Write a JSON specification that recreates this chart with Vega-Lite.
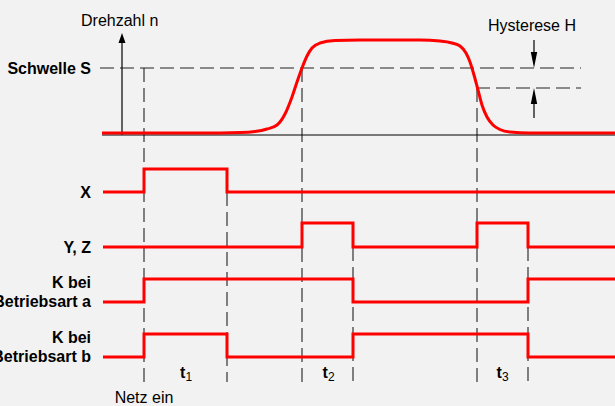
{
  "$schema": "https://vega.github.io/schema/vega-lite/v6.json",
  "width": 615,
  "height": 406,
  "autosize": {"type": "none"},
  "padding": 0,
  "background": "#f2f2f2",
  "config": {"view": {"stroke": null}},
  "datasets": {
    "signals": [
      {"s": "X", "t": 103, "v": 192}, {"s": "X", "t": 144, "v": 169}, {"s": "X", "t": 227, "v": 192}, {"s": "X", "t": 615, "v": 192},
      {"s": "YZ", "t": 103, "v": 247}, {"s": "YZ", "t": 302, "v": 223}, {"s": "YZ", "t": 353, "v": 247}, {"s": "YZ", "t": 477, "v": 223}, {"s": "YZ", "t": 528, "v": 247}, {"s": "YZ", "t": 615, "v": 247},
      {"s": "Ka", "t": 103, "v": 302}, {"s": "Ka", "t": 144, "v": 279}, {"s": "Ka", "t": 353, "v": 302}, {"s": "Ka", "t": 528, "v": 279}, {"s": "Ka", "t": 615, "v": 279},
      {"s": "Kb", "t": 103, "v": 357}, {"s": "Kb", "t": 144, "v": 334}, {"s": "Kb", "t": 227, "v": 357}, {"s": "Kb", "t": 353, "v": 334}, {"s": "Kb", "t": 528, "v": 357}, {"s": "Kb", "t": 615, "v": 357}
    ],
    "speed": [
      {"t": 102, "v": 133}, {"t": 200, "v": 133}, {"t": 240, "v": 132.5}, {"t": 255, "v": 131.5}, {"t": 267, "v": 129}, {"t": 277, "v": 125},
      {"t": 285, "v": 114}, {"t": 292, "v": 97}, {"t": 297, "v": 82}, {"t": 302, "v": 68}, {"t": 307, "v": 56}, {"t": 312, "v": 48},
      {"t": 320, "v": 43}, {"t": 335, "v": 40.5}, {"t": 360, "v": 40}, {"t": 420, "v": 40}, {"t": 440, "v": 41}, {"t": 452, "v": 43},
      {"t": 460, "v": 46}, {"t": 466, "v": 53}, {"t": 470, "v": 62}, {"t": 474, "v": 75}, {"t": 478, "v": 90}, {"t": 482, "v": 105},
      {"t": 487, "v": 117}, {"t": 493, "v": 125}, {"t": 500, "v": 129.5}, {"t": 510, "v": 132}, {"t": 530, "v": 133}, {"t": 615, "v": 133}
    ],
    "solid": [
      {"t": 102, "t2": 615, "v": 135, "v2": 135},
      {"t": 122, "t2": 122, "v": 135, "v2": 42},
      {"t": 534, "t2": 534, "v": 40, "v2": 60},
      {"t": 534, "t2": 534, "v": 118, "v2": 96}
    ],
    "dashed": [
      {"t": 100, "t2": 581, "v": 68, "v2": 68},
      {"t": 476, "t2": 581, "v": 88, "v2": 88},
      {"t": 144, "t2": 144, "v": 68, "v2": 382},
      {"t": 227, "t2": 227, "v": 192, "v2": 382},
      {"t": 302, "t2": 302, "v": 68, "v2": 382},
      {"t": 353, "t2": 353, "v": 247, "v2": 382},
      {"t": 477, "t2": 477, "v": 88, "v2": 382},
      {"t": 528, "t2": 528, "v": 247, "v2": 382}
    ],
    "boldLabels": [
      {"label": "Schwelle S", "t": 91, "v": 74},
      {"label": "X", "t": 91, "v": 198},
      {"label": "Y, Z", "t": 91, "v": 253},
      {"label": "K bei", "t": 91, "v": 287.5},
      {"label": "Betriebsart  a", "t": 91, "v": 306.5},
      {"label": "K bei", "t": 91, "v": 343},
      {"label": "Betriebsart b", "t": 91, "v": 362}
    ],
    "tLabels": [
      {"label": "t", "sub": "1", "t": 180, "v": 378},
      {"label": "t", "sub": "2", "t": 322.5, "v": 378},
      {"label": "t", "sub": "3", "t": 496.5, "v": 378}
    ]
  },
  "layer": [
    {
      "data": {"name": "dashed"},
      "mark": {"type": "rule", "color": "#222222", "strokeWidth": 1.1, "strokeDash": [14, 6]},
      "encoding": {
        "x": {"field": "t", "type": "quantitative", "scale": {"domain": [0, 615], "nice": false, "zero": false}, "axis": null},
        "x2": {"field": "t2"},
        "y": {"field": "v", "type": "quantitative", "scale": {"domain": [0, 406], "nice": false, "zero": false, "reverse": true}, "axis": null},
        "y2": {"field": "v2"}
      }
    },
    {
      "data": {"name": "solid"},
      "mark": {"type": "rule", "color": "#000000", "strokeWidth": 1.2},
      "encoding": {
        "x": {"field": "t", "type": "quantitative", "scale": {"domain": [0, 615], "nice": false, "zero": false}, "axis": null},
        "x2": {"field": "t2"},
        "y": {"field": "v", "type": "quantitative", "scale": {"domain": [0, 406], "nice": false, "zero": false, "reverse": true}, "axis": null},
        "y2": {"field": "v2"}
      }
    },
    {
      "data": {"values": [{"t": 122, "v": 38}]},
      "mark": {"type": "point", "filled": true, "color": "#000000", "opacity": 1, "size": 100, "shape": "M0,-1L0.7,1L-0.7,1Z"},
      "encoding": {
        "x": {"field": "t", "type": "quantitative", "scale": {"domain": [0, 615], "nice": false, "zero": false}, "axis": null},
        "y": {"field": "v", "type": "quantitative", "scale": {"domain": [0, 406], "nice": false, "zero": false, "reverse": true}, "axis": null}
      }
    },
    {
      "data": {"values": [{"t": 534, "v": 60}]},
      "mark": {"type": "point", "filled": true, "color": "#000000", "opacity": 1, "size": 256, "shape": "M0,1L0.4,-1L-0.4,-1Z"},
      "encoding": {
        "x": {"field": "t", "type": "quantitative", "scale": {"domain": [0, 615], "nice": false, "zero": false}, "axis": null},
        "y": {"field": "v", "type": "quantitative", "scale": {"domain": [0, 406], "nice": false, "zero": false, "reverse": true}, "axis": null}
      }
    },
    {
      "data": {"values": [{"t": 534, "v": 96}]},
      "mark": {"type": "point", "filled": true, "color": "#000000", "opacity": 1, "size": 256, "shape": "M0,-1L0.4,1L-0.4,1Z"},
      "encoding": {
        "x": {"field": "t", "type": "quantitative", "scale": {"domain": [0, 615], "nice": false, "zero": false}, "axis": null},
        "y": {"field": "v", "type": "quantitative", "scale": {"domain": [0, 406], "nice": false, "zero": false, "reverse": true}, "axis": null}
      }
    },
    {
      "data": {"name": "speed"},
      "mark": {"type": "line", "color": "#ff0000", "strokeWidth": 3, "interpolate": "monotone"},
      "encoding": {
        "x": {"field": "t", "type": "quantitative", "scale": {"domain": [0, 615], "nice": false, "zero": false}, "axis": null},
        "y": {"field": "v", "type": "quantitative", "scale": {"domain": [0, 406], "nice": false, "zero": false, "reverse": true}, "axis": null}
      }
    },
    {
      "data": {"name": "signals"},
      "mark": {"type": "line", "color": "#ff0000", "strokeWidth": 3, "interpolate": "step-after"},
      "encoding": {
        "x": {"field": "t", "type": "quantitative", "scale": {"domain": [0, 615], "nice": false, "zero": false}, "axis": null},
        "y": {"field": "v", "type": "quantitative", "scale": {"domain": [0, 406], "nice": false, "zero": false, "reverse": true}, "axis": null},
        "detail": {"field": "s"}
      }
    },
    {
      "data": {"name": "boldLabels"},
      "mark": {"type": "text", "font": "Liberation Sans", "fontSize": 16, "fontWeight": "bold", "align": "right", "baseline": "alphabetic", "color": "#000000"},
      "encoding": {
        "x": {"field": "t", "type": "quantitative", "scale": {"domain": [0, 615], "nice": false, "zero": false}, "axis": null},
        "y": {"field": "v", "type": "quantitative", "scale": {"domain": [0, 406], "nice": false, "zero": false, "reverse": true}, "axis": null},
        "text": {"field": "label"}
      }
    },
    {
      "data": {"name": "tLabels"},
      "mark": {"type": "text", "font": "Liberation Sans", "fontSize": 16, "fontWeight": "bold", "align": "left", "baseline": "alphabetic", "color": "#000000"},
      "encoding": {
        "x": {"field": "t", "type": "quantitative", "scale": {"domain": [0, 615], "nice": false, "zero": false}, "axis": null},
        "y": {"field": "v", "type": "quantitative", "scale": {"domain": [0, 406], "nice": false, "zero": false, "reverse": true}, "axis": null},
        "text": {"field": "label"}
      }
    },
    {
      "data": {"name": "tLabels"},
      "mark": {"type": "text", "font": "Liberation Sans", "fontSize": 12, "align": "left", "baseline": "alphabetic", "color": "#000000", "dx": 5.5, "dy": 3},
      "encoding": {
        "x": {"field": "t", "type": "quantitative", "scale": {"domain": [0, 615], "nice": false, "zero": false}, "axis": null},
        "y": {"field": "v", "type": "quantitative", "scale": {"domain": [0, 406], "nice": false, "zero": false, "reverse": true}, "axis": null},
        "text": {"field": "sub"}
      }
    },
    {
      "data": {"values": [{"label": "Drehzahl n", "t": 81, "v": 26}]},
      "mark": {"type": "text", "font": "Liberation Sans", "fontSize": 16, "align": "left", "baseline": "alphabetic", "color": "#000000"},
      "encoding": {
        "x": {"field": "t", "type": "quantitative", "scale": {"domain": [0, 615], "nice": false, "zero": false}, "axis": null},
        "y": {"field": "v", "type": "quantitative", "scale": {"domain": [0, 406], "nice": false, "zero": false, "reverse": true}, "axis": null},
        "text": {"field": "label"}
      }
    },
    {
      "data": {"values": [{"label": "Hysterese H", "t": 532, "v": 30.5}, {"label": "Netz ein", "t": 144, "v": 403}]},
      "mark": {"type": "text", "font": "Liberation Sans", "fontSize": 16, "align": "center", "baseline": "alphabetic", "color": "#000000"},
      "encoding": {
        "x": {"field": "t", "type": "quantitative", "scale": {"domain": [0, 615], "nice": false, "zero": false}, "axis": null},
        "y": {"field": "v", "type": "quantitative", "scale": {"domain": [0, 406], "nice": false, "zero": false, "reverse": true}, "axis": null},
        "text": {"field": "label"}
      }
    }
  ]
}
